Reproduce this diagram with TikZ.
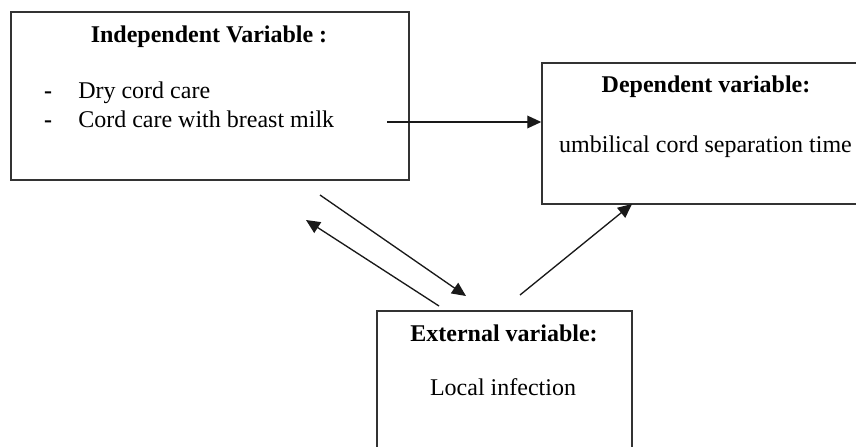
\documentclass[tikz,border=0pt]{standalone}
\usepackage{fontspec}
\setmainfont{Liberation Serif}
\usetikzlibrary{arrows.meta}

\tikzset{
  box/.style={draw=black!80, line width=1.1pt, fill=white, inner sep=0pt},
  boxtitle/.style={font=\fontsize{18}{22}\selectfont\bfseries, anchor=base, inner sep=0pt},
  boxtext/.style={font=\fontsize{18}{22}\selectfont, inner sep=0pt},
  arr/.style={-{Triangle[length=10.5pt,width=9.5pt]}, line width=1pt, draw=black!90}
}

\begin{document}
\begin{tikzpicture}[x=0.75pt, y=-0.75pt]
  \useasboundingbox (0,0) rectangle (856,446);
  \clip (0,0) rectangle (856,446);

  % Boxes
  \node[box, minimum width=298.5pt, minimum height=126pt] (indep) at (210,96) {};
  \node[box, minimum width=246pt, minimum height=105.75pt] (dep) at (706,133.5) {};
  \node[box, minimum width=191.25pt, minimum height=126.75pt] (ext) at (504.5,395.5) {};

  % Texts of the independent variable
  \node[boxtitle] (indeptitle) at (209,42) {Independent Variable :};
  \node[boxtext, anchor=base] (dashone) at (48,98) {\textbf{-}};
  \node[boxtext, anchor=base west] (itemone) at (78,98) {Dry cord care};
  \node[boxtext, anchor=base] (dashtwo) at (48,127) {\textbf{-}};
  \node[boxtext, anchor=base west] (itemtwo) at (78,127) {Cord care with breast milk};

  % Texts of the dependent variable
  \node[boxtitle] (deptitle) at (706,92) {Dependent variable:};
  \node[boxtext, anchor=base] (deptext) at (705.5,152) {umbilical cord separation time};

  % Texts of the external variable
  \node[boxtitle] (exttitle) at (504,341) {External variable:};
  \node[boxtext, anchor=base] (exttext) at (503,395) {Local infection};

  % Free ends of the arrows
  \coordinate (hstart) at (387,122);
  \coordinate (downstart) at (320,195);
  \coordinate (downend) at (466,296);
  \coordinate (upstart) at (439,306);
  \coordinate (upend) at (306,220);
  \coordinate (rightstart) at (520,295);
  \coordinate (rightend) at (632,204);

  % Arrows
  \draw[arr] (hstart) -- (hstart -| dep.west);
  \draw[arr] (downstart) -- (downend);
  \draw[arr] (upstart) -- (upend);
  \draw[arr] (rightstart) -- (rightend);
\end{tikzpicture}
\end{document}
